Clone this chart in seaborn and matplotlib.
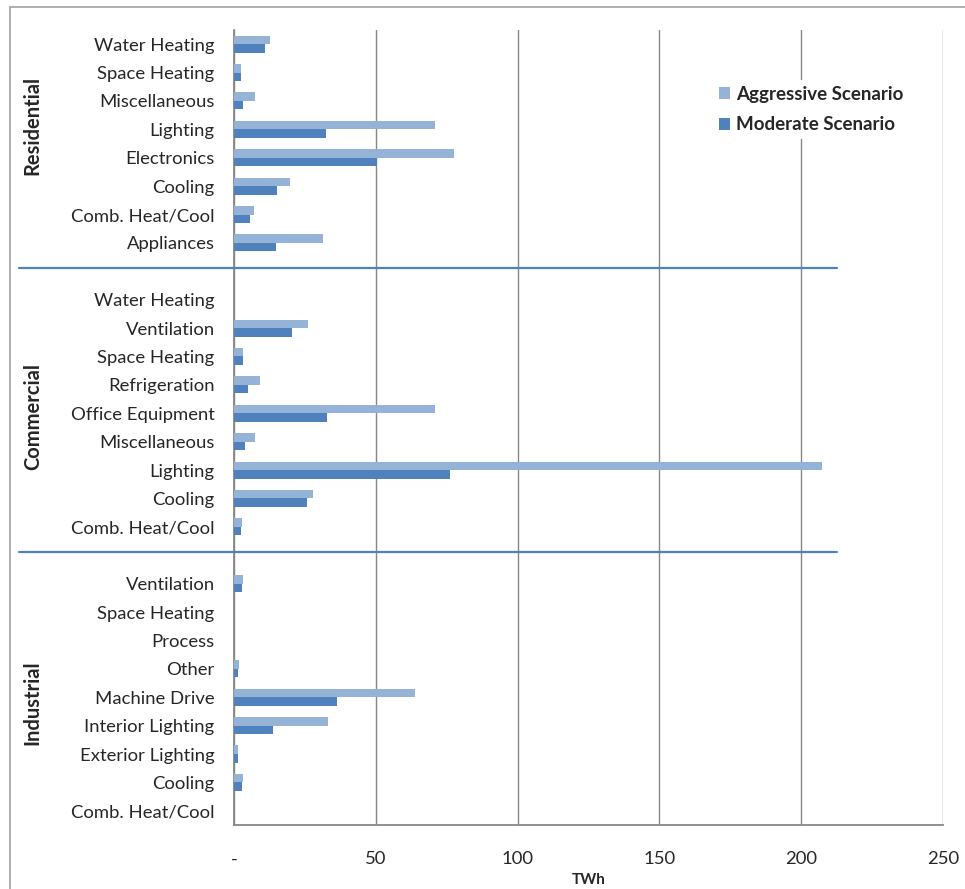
import pandas as pd
import matplotlib.pyplot as plt
import seaborn as sns
from matplotlib.patches import Rectangle
from matplotlib.transforms import blended_transform_factory

# Values (TWh)
sectors = ["Residential", "Commercial", "Industrial"]
scenarios = ["Aggressive Scenario", "Moderate Scenario"]

residential_uses = ["Water Heating", "Space Heating", "Miscellaneous", "Lighting",
                    "Electronics", "Cooling", "Comb. Heat/Cool", "Appliances"]
residential_aggressive = [12.8, 2.3, 7.5, 71.0, 77.7, 19.8, 7.0, 31.3]
residential_moderate = [11.1, 2.4, 3.3, 32.3, 50.4, 15.2, 5.5, 14.7]

commercial_uses = ["Water Heating", "Ventilation", "Space Heating", "Refrigeration",
                   "Office Equipment", "Miscellaneous", "Lighting", "Cooling",
                   "Comb. Heat/Cool"]
commercial_aggressive = [0, 26.2, 3.3, 9.1, 71.0, 7.5, 207.5, 27.7, 2.9]
commercial_moderate = [0, 20.4, 3.3, 4.9, 32.9, 3.9, 76.2, 25.6, 2.3]

industrial_uses = ["Ventilation", "Space Heating", "Process", "Other", "Machine Drive",
                   "Interior Lighting", "Exterior Lighting", "Cooling", "Comb. Heat/Cool"]
industrial_aggressive = [3.3, 0, 0, 1.8, 63.9, 33.3, 1.3, 3.3, 0]
industrial_moderate = [2.9, 0, 0, 1.3, 36.4, 13.7, 1.3, 2.9, 0]

x_ticks = [0, 50, 100, 150, 200, 250]
x_tick_labels = ["-", "50", "100", "150", "200", "250"]

colors = ["#95B3D7", "#4F81BD"]
grey = "#878787"


def build_frame():
    groups = [
        (sectors[0], residential_uses, residential_aggressive, residential_moderate),
        (sectors[1], commercial_uses, commercial_aggressive, commercial_moderate),
        (sectors[2], industrial_uses, industrial_aggressive, industrial_moderate),
    ]
    rows, order, labels = [], [], []
    for i, (sector, uses, agg, mod) in enumerate(groups):
        if i > 0:
            # empty slot between sectors
            order.append(f"gap{i}")
            labels.append("")
        for use, a, m in zip(uses, agg, mod):
            key = f"{sector}|{use}"
            order.append(key)
            labels.append(use)
            rows.append({"key": key, "Scenario": scenarios[0], "TWh": a})
            rows.append({"key": key, "Scenario": scenarios[1], "TWh": m})
    return pd.DataFrame(rows), order, labels


def plot_chart(df, order, labels):
    sns.set_style("white")
    plt.rcParams["font.family"] = ["Lato", "DejaVu Sans"]

    fig = plt.figure(figsize=(9.65, 8.89), dpi=100)
    ax = fig.add_axes([0.2425, 0.072, 0.7347, 0.8943])

    sns.barplot(data=df, x="TWh", y="key", hue="Scenario", order=order,
                hue_order=scenarios, palette=colors, saturation=1, width=0.6,
                orient="h", errorbar=None, linewidth=0, ax=ax, zorder=3)

    n = len(order)
    ax.set_ylim(n - 0.5, -0.5)
    ax.set_xlim(0, 250)

    # category labels at slot centres, tick marks at slot boundaries
    ax.set_yticks(range(n))
    ax.set_yticklabels(labels, fontsize=13.3)
    ax.set_yticks([i - 0.5 for i in range(n + 1)], minor=True)
    ax.tick_params(axis="y", which="major", length=0, pad=14)
    ax.tick_params(axis="y", which="minor", length=5, width=1, color=grey, direction="out")
    ax.set_ylabel("")

    ax.set_xticks(x_ticks)
    ax.set_xticklabels(x_tick_labels, fontsize=13.3)
    ax.tick_params(axis="x", length=4, width=1, color=grey, pad=15)
    ax.set_xlabel("TWh", fontsize=11, fontweight="bold", labelpad=4)

    ax.grid(axis="x", color=grey, linewidth=1, zorder=0)
    ax.grid(axis="y", visible=False)
    sns.despine(ax=ax, top=True, right=True)
    for side in ["left", "bottom"]:
        ax.spines[side].set_color(grey)
        ax.spines[side].set_linewidth(1.3)

    # sector labels and separators
    trans = blended_transform_factory(fig.transFigure, ax.transData)
    for sector, y in zip(sectors, [2.85, 13.1, 23.2]):
        ax.text(0.034, y, sector, transform=trans, rotation=90, ha="center",
                va="center", fontsize=14.5, fontweight="bold")
    for y in [7.88, 17.9]:
        ax.plot([19 / 965, 837 / 965], [y, y], transform=trans, color="#4F81BD",
                linewidth=1.6, clip_on=False, zorder=4)

    handles, leg_labels = ax.get_legend_handles_labels()
    ax.legend(handles, leg_labels, loc="upper left", bbox_to_anchor=(704 / 965, 1 - 71 / 889),
              bbox_transform=fig.transFigure, frameon=True, facecolor="white",
              edgecolor="none", framealpha=1, fancybox=False,
              prop={"weight": "bold", "size": 13.5}, handlelength=0.6, handleheight=0.6,
              labelspacing=0.72, handletextpad=0.3, borderpad=0.3)

    # chart area border (only left and top are inside the picture)
    fig.add_artist(Rectangle((10 / 965, -0.1), 1.2, 1.1 - 7 / 889,
                             transform=fig.transFigure, fill=False,
                             edgecolor="#A0A0A0", linewidth=1.2))

    plt.savefig("out.png", dpi=100)


def main():
    df, order, labels = build_frame()
    plot_chart(df, order, labels)


if __name__ == "__main__":
    main()
